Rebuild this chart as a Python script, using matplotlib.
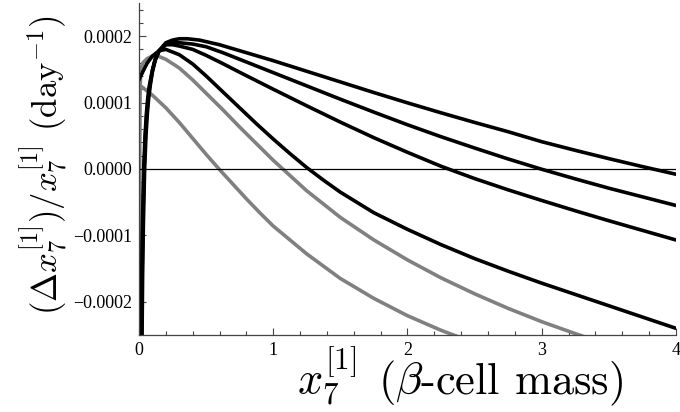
import matplotlib
matplotlib.use("Agg")
import matplotlib.pyplot as plt
from matplotlib.ticker import MultipleLocator

plt.rcParams["mathtext.fontset"] = "cm"

# values (units of 1e-6 per day)
black1_x = [0.022, 0.027, 0.033, 0.042, 0.052, 0.062, 0.072, 0.085, 0.1, 0.12, 0.15, 0.2, 0.25, 0.3, 0.36,
            0.45, 0.6, 0.75, 1.0, 1.25, 1.5, 1.75, 2.0, 2.25, 2.5, 2.75, 3.0, 3.25, 3.5, 3.75, 4.0]
black1_y = [-270, -160, -80, 0, 50, 83, 106, 127, 146, 163, 178, 190, 194, 196, 196,
            194, 187, 178, 163, 147, 131, 115, 99.5, 84.5, 70, 56, 41, 28, 15.5, 3.5, -8]

black2_x = [0.018, 0.023, 0.029, 0.038, 0.048, 0.058, 0.068, 0.08, 0.1, 0.12, 0.15, 0.2, 0.25, 0.3, 0.4,
            0.5, 0.625, 0.75, 1.0, 1.25, 1.5, 1.75, 2.0, 2.25, 2.5, 2.75, 3.0, 3.25, 3.5, 3.75, 4.0]
black2_y = [-270, -160, -80, 0, 50, 83, 106, 125, 148, 164, 178, 188, 191, 190, 188,
            184, 175, 165, 145, 125, 105, 85.5, 66.5, 48.5, 31.5, 15, -0.5, -15, -29, -42, -55]

black3_x = [0.015, 0.02, 0.026, 0.035, 0.045, 0.055, 0.065, 0.077, 0.1, 0.12, 0.15, 0.2, 0.25, 0.3, 0.4,
            0.5, 0.625, 0.75, 1.0, 1.25, 1.5, 1.75, 2.0, 2.25, 2.5, 2.75, 3.0, 3.25, 3.5, 3.75, 4.0]
black3_y = [-270, -160, -80, 0, 50, 83, 106, 125, 149, 165, 178, 187, 187, 185, 180,
            171, 158.5, 145.5, 120, 95, 70.5, 47, 25, 4, -14.5, -31.5, -47.5, -63, -78, -92.5, -107]

black4_x = [0.0, 0.03, 0.06, 0.1, 0.15, 0.2, 0.3, 0.4, 0.5, 0.625, 0.75, 0.875, 1.0, 1.125, 1.25, 1.375,
            1.5, 1.75, 2.0, 2.25, 2.5, 2.75, 3.0, 3.25, 3.5, 3.75, 4.0]
black4_y = [134, 147, 159, 170, 178, 180, 172, 158, 140, 116, 92, 68, 45, 23, 2, -17,
            -35, -66, -91, -114, -135, -154, -172, -189, -206, -223, -240]

gray1_x = [0.0, 0.1, 0.2, 0.3, 0.4, 0.5, 0.6, 0.7, 0.8, 0.9, 1.0, 1.25, 1.5, 1.75, 2.0, 2.25, 2.5]
gray1_y = [127, 111, 92, 70, 46, 22, -1, -23, -45, -66, -86, -128, -165, -195, -221, -243, -262]

gray2_x = [0.0, 0.004, 0.008, 0.012, 0.03, 0.06, 0.1, 0.14, 0.2, 0.3, 0.4, 0.5, 0.625, 0.75, 0.875, 1.0,
           1.125, 1.25, 1.375, 1.5, 1.75, 2.0, 2.25, 2.5, 2.75, 3.0, 3.25, 3.5]
gray2_y = [-270, -50, 110, 150, 160, 166, 170, 170, 165, 152, 134, 114, 89, 63, 38, 13,
           -10, -33, -53, -73, -107, -137, -164, -188, -210, -230, -248, -265]

x_ticks = [0, 1, 2, 3, 4]
x_ticklabels = ["0", "1", "2", "3", "4"]
y_ticks = [-0.0002, -0.0001, 0.0, 0.0001, 0.0002]
y_ticklabels = ["\u22120.0002", "\u22120.0001", "0.0000", "0.0001", "0.0002"]

fig = plt.figure(figsize=(6.8, 4.12), dpi=100)
ax = fig.add_axes([0.2044, 0.187, 0.7896, 0.806])

grey = "#808080"
lw = 2.6
scale = 1e-6
curves = [(gray1_x, gray1_y, grey), (gray2_x, gray2_y, grey),
          (black4_x, black4_y, "black"), (black3_x, black3_y, "black"),
          (black2_x, black2_y, "black"), (black1_x, black1_y, "black")]
for xs, ys, c in curves:
    ax.plot(xs, [v * scale for v in ys], color=c, lw=lw,
            solid_joinstyle="round", solid_capstyle="round")

ax.axhline(0, color="black", lw=0.9)

ax.set_xlim(0, 4)
ax.set_ylim(-0.00025, 0.00025)

for s in ["top", "right"]:
    ax.spines[s].set_visible(False)
for s in ["left", "bottom"]:
    ax.spines[s].set_color("#444444")
    ax.spines[s].set_linewidth(0.9)

ax.set_xticks(x_ticks)
ax.set_xticklabels(x_ticklabels)
ax.set_yticks(y_ticks)
ax.set_yticklabels(y_ticklabels)
ax.xaxis.set_minor_locator(MultipleLocator(0.2))
ax.yaxis.set_minor_locator(MultipleLocator(0.00002))
ax.tick_params(which="both", direction="in", color="#444444", width=0.8)
ax.tick_params(which="major", length=5)
ax.tick_params(which="minor", length=3)
ax.tick_params(axis="both", labelsize=13, pad=5)
for lab in ax.get_xticklabels() + ax.get_yticklabels():
    lab.set_fontfamily("Liberation Serif")

# x label in two pieces, baseline aligned, so the superscript stays clear of the tick labels
fig.text(0.437, 0.043, r"$x_7^{[1]}$", fontsize=32, va="baseline", ha="left")
fig.text(0.556, 0.043, r"($\beta$-cell mass)", fontsize=32, fontfamily="cmr10",
         va="baseline", ha="left")
ax.set_ylabel(r"$(\Delta x_7^{[1]})/x_7^{[1]}$ (day$^{-1}$)", fontsize=25, fontfamily="cmr10")
ax.yaxis.set_label_coords(-0.128, 0.512)

fig.savefig("out.png", dpi=100)
